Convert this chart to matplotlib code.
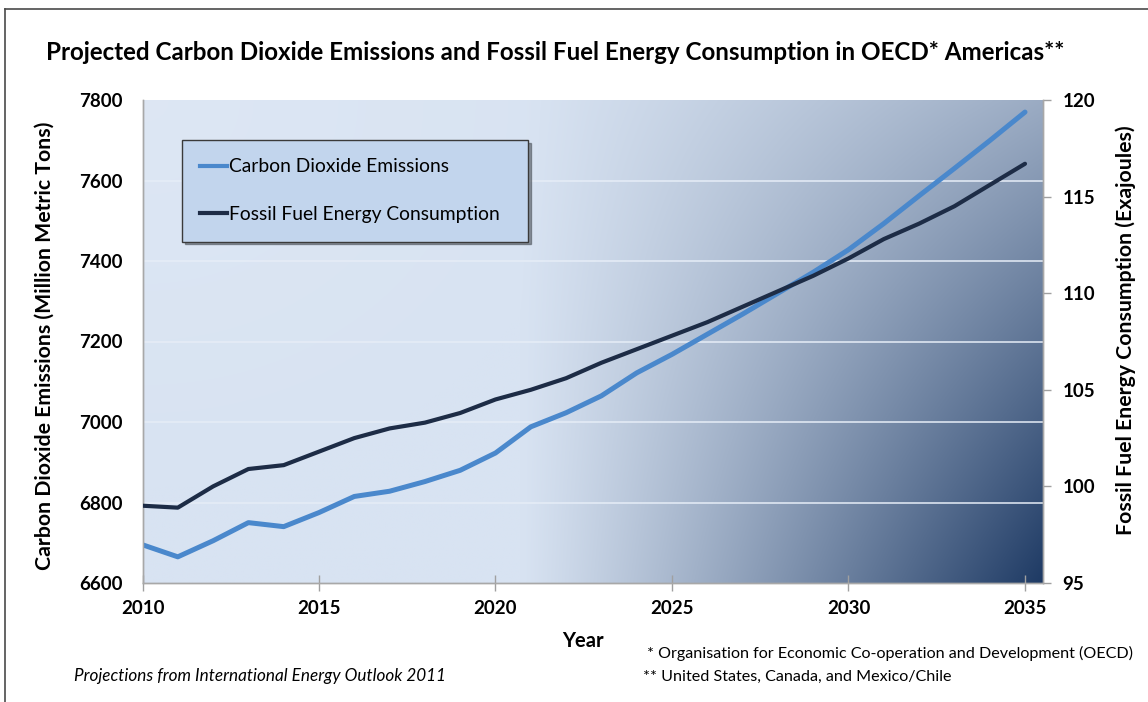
import numpy as np
import matplotlib
matplotlib.use('Agg')
import matplotlib.pyplot as plt
from matplotlib.lines import Line2D

# ----- Data -----
years = list(range(2010, 2036))
co2 = [6695, 6665, 6705, 6750, 6740, 6775, 6815, 6828, 6852, 6880,
       6923, 6988, 7023, 7065, 7122, 7168, 7218, 7268, 7320, 7372,
       7428, 7493, 7562, 7630, 7699, 7770]
energy = [99.0, 98.9, 100.0, 100.9, 101.1, 101.8, 102.5, 103.0, 103.3, 103.8,
          104.5, 105.0, 105.6, 106.4, 107.1, 107.8, 108.5, 109.3, 110.1, 110.9,
          111.8, 112.8, 113.6, 114.5, 115.6, 116.7]
xticks = [2010, 2015, 2020, 2025, 2030, 2035]
left_ticks = [6600, 6800, 7000, 7200, 7400, 7600, 7800]
right_ticks = [95, 100, 105, 110, 115, 120]

title = 'Projected Carbon Dioxide Emissions and Fossil Fuel Energy Consumption in OECD* Americas**'
font = 'Lato'
c_co2 = '#4a88cc'
c_energy = '#1d2c46'

# ----- Figure -----
W, H = 1148, 702
fig = plt.figure(figsize=(W/100, H/100), dpi=100)
ax_l, ax_r, ax_t, ax_b = 142.5, 1043, 100, 583
ax1 = fig.add_axes([ax_l/W, 1-ax_b/H, (ax_r-ax_l)/W, (ax_b-ax_t)/H])
ax2 = ax1.twinx()

xlim = (2010, 2035.51)
ylim1 = (6600, 7800)
ylim2 = (95, 120)

# background gradient (light top-left -> dark bottom-right)
nx, ny = 400, 300
u = np.linspace(0, 1, nx)[None, :]
v = np.linspace(0, 1, ny)[:, None]          # 0 top, 1 bottom
t = np.clip((u - 0.42) / 0.58, 0, 1) ** 1.1 * (0.33 + 0.67 * v)
light = np.array([216, 227, 242]) / 255
dark = np.array([30, 58, 100]) / 255
img = light[None, None, :] * (1 - t[..., None]) + dark[None, None, :] * t[..., None]
# small highlight near the top-left corner
hl = np.clip(1 - np.sqrt((u / 0.5) ** 2 + (v / 0.8) ** 2), 0, 1)[..., None] * 0.25
img = img * (1 - hl) + hl * np.array([0.93, 0.95, 0.98])
ax1.imshow(img, extent=[xlim[0], xlim[1], ylim1[0], ylim1[1]], aspect='auto',
           origin='upper', zorder=0, interpolation='bilinear')

for yv in left_ticks[1:-1]:
    ax1.axhline(yv, color='#e6edf7', lw=1.3, alpha=0.85, zorder=1)

ax1.plot(years, co2, color=c_co2, lw=3.6, zorder=3, solid_capstyle='round')
ax2.plot(years, energy, color=c_energy, lw=3.0, zorder=3, solid_capstyle='round')

ax1.set_xlim(*xlim)
ax1.set_ylim(*ylim1)
ax2.set_ylim(*ylim2)

ax1.set_xticks(xticks)
ax1.set_yticks(left_ticks)
ax2.set_yticks(right_ticks)

tick_font = dict(family=font, weight='bold', size=13.5)
ax1.set_xticklabels([str(x) for x in xticks], **tick_font)
ax1.set_yticklabels([str(y) for y in left_ticks], **tick_font)
ax2.set_yticklabels([str(y) for y in right_ticks], **tick_font)

ax1.tick_params(axis='x', direction='inout', length=12, width=1, color='#a0a0a0', pad=6)
ax1.tick_params(axis='y', length=0, pad=14)
ax2.tick_params(axis='y', direction='out', length=6, width=1, color='#a0a0a0', pad=8)

for ax in (ax1, ax2):
    for s in ax.spines.values():
        s.set_color('#a8a8a8')
        s.set_linewidth(1)
ax1.spines['top'].set_visible(False)
ax2.spines['top'].set_visible(False)

lab_font = dict(family=font, weight='bold', size=15.3)
ax1.set_xlabel('Year', family=font, weight='bold', size=14.5)
ax1.xaxis.set_label_coords((583-ax_l)/(ax_r-ax_l), 1-(631-ax_t)/(ax_b-ax_t))
ax1.set_ylabel('Carbon Dioxide Emissions (Million Metric Tons)', **lab_font)
ax1.yaxis.set_label_coords(-(ax_l-55)/(ax_r-ax_l), 1-(346-ax_t)/(ax_b-ax_t))
ax2.set_ylabel('Fossil Fuel Energy Consumption (Exajoules)', **lab_font)
ax2.yaxis.set_label_coords(1+(1115-ax_r)/(ax_r-ax_l), 1-(330-ax_t)/(ax_b-ax_t))

fig.text(555/W, 1-52/H, title, family=font, weight='bold', size=17.4,
         ha='center', va='center')

# legend
handles = [Line2D([], [], color=c_co2, lw=3.0), Line2D([], [], color=c_energy, lw=3.0)]
leg = fig.legend(handles, ['Carbon Dioxide Emissions', 'Fossil Fuel Energy Consumption'],
                 loc='upper left', bbox_to_anchor=(182/W, 1-241/H, 346/W, 101/H),
                 mode='expand', prop=dict(family=font, size=13.9), frameon=True,
                 fancybox=False, shadow=True, handlelength=1.4, handletextpad=0.08,
                 labelspacing=1.6, borderpad=0.95, borderaxespad=0)
leg.get_frame().set_facecolor('#c2d5ed')
leg.get_frame().set_edgecolor('#3a3a3a')
leg.get_frame().set_alpha(1)
leg.get_frame().set_linewidth(1)

# footnotes
fig.text(647/W, 1-653/H, '* Organisation for Economic Co-operation and Development (OECD)',
         family=font, size=11.6, ha='left', va='center')
fig.text(643/W, 1-677/H, '** United States, Canada, and Mexico/Chile',
         family=font, size=11.6, ha='left', va='center')
fig.text(74/W, 1-676/H, 'Projections from International Energy Outlook 2011',
         family=font, size=12.3, style='italic', ha='left', va='center')

# outer frame lines (left and top)
fig.add_artist(Line2D([5/W, 5/W], [0, 1-9/H], transform=fig.transFigure,
                      color='#4a4a4a', lw=1.2))
fig.add_artist(Line2D([5/W, 1], [1-9/H, 1-9/H], transform=fig.transFigure,
                      color='#4a4a4a', lw=1.2))

fig.savefig('out.png', dpi=100)
